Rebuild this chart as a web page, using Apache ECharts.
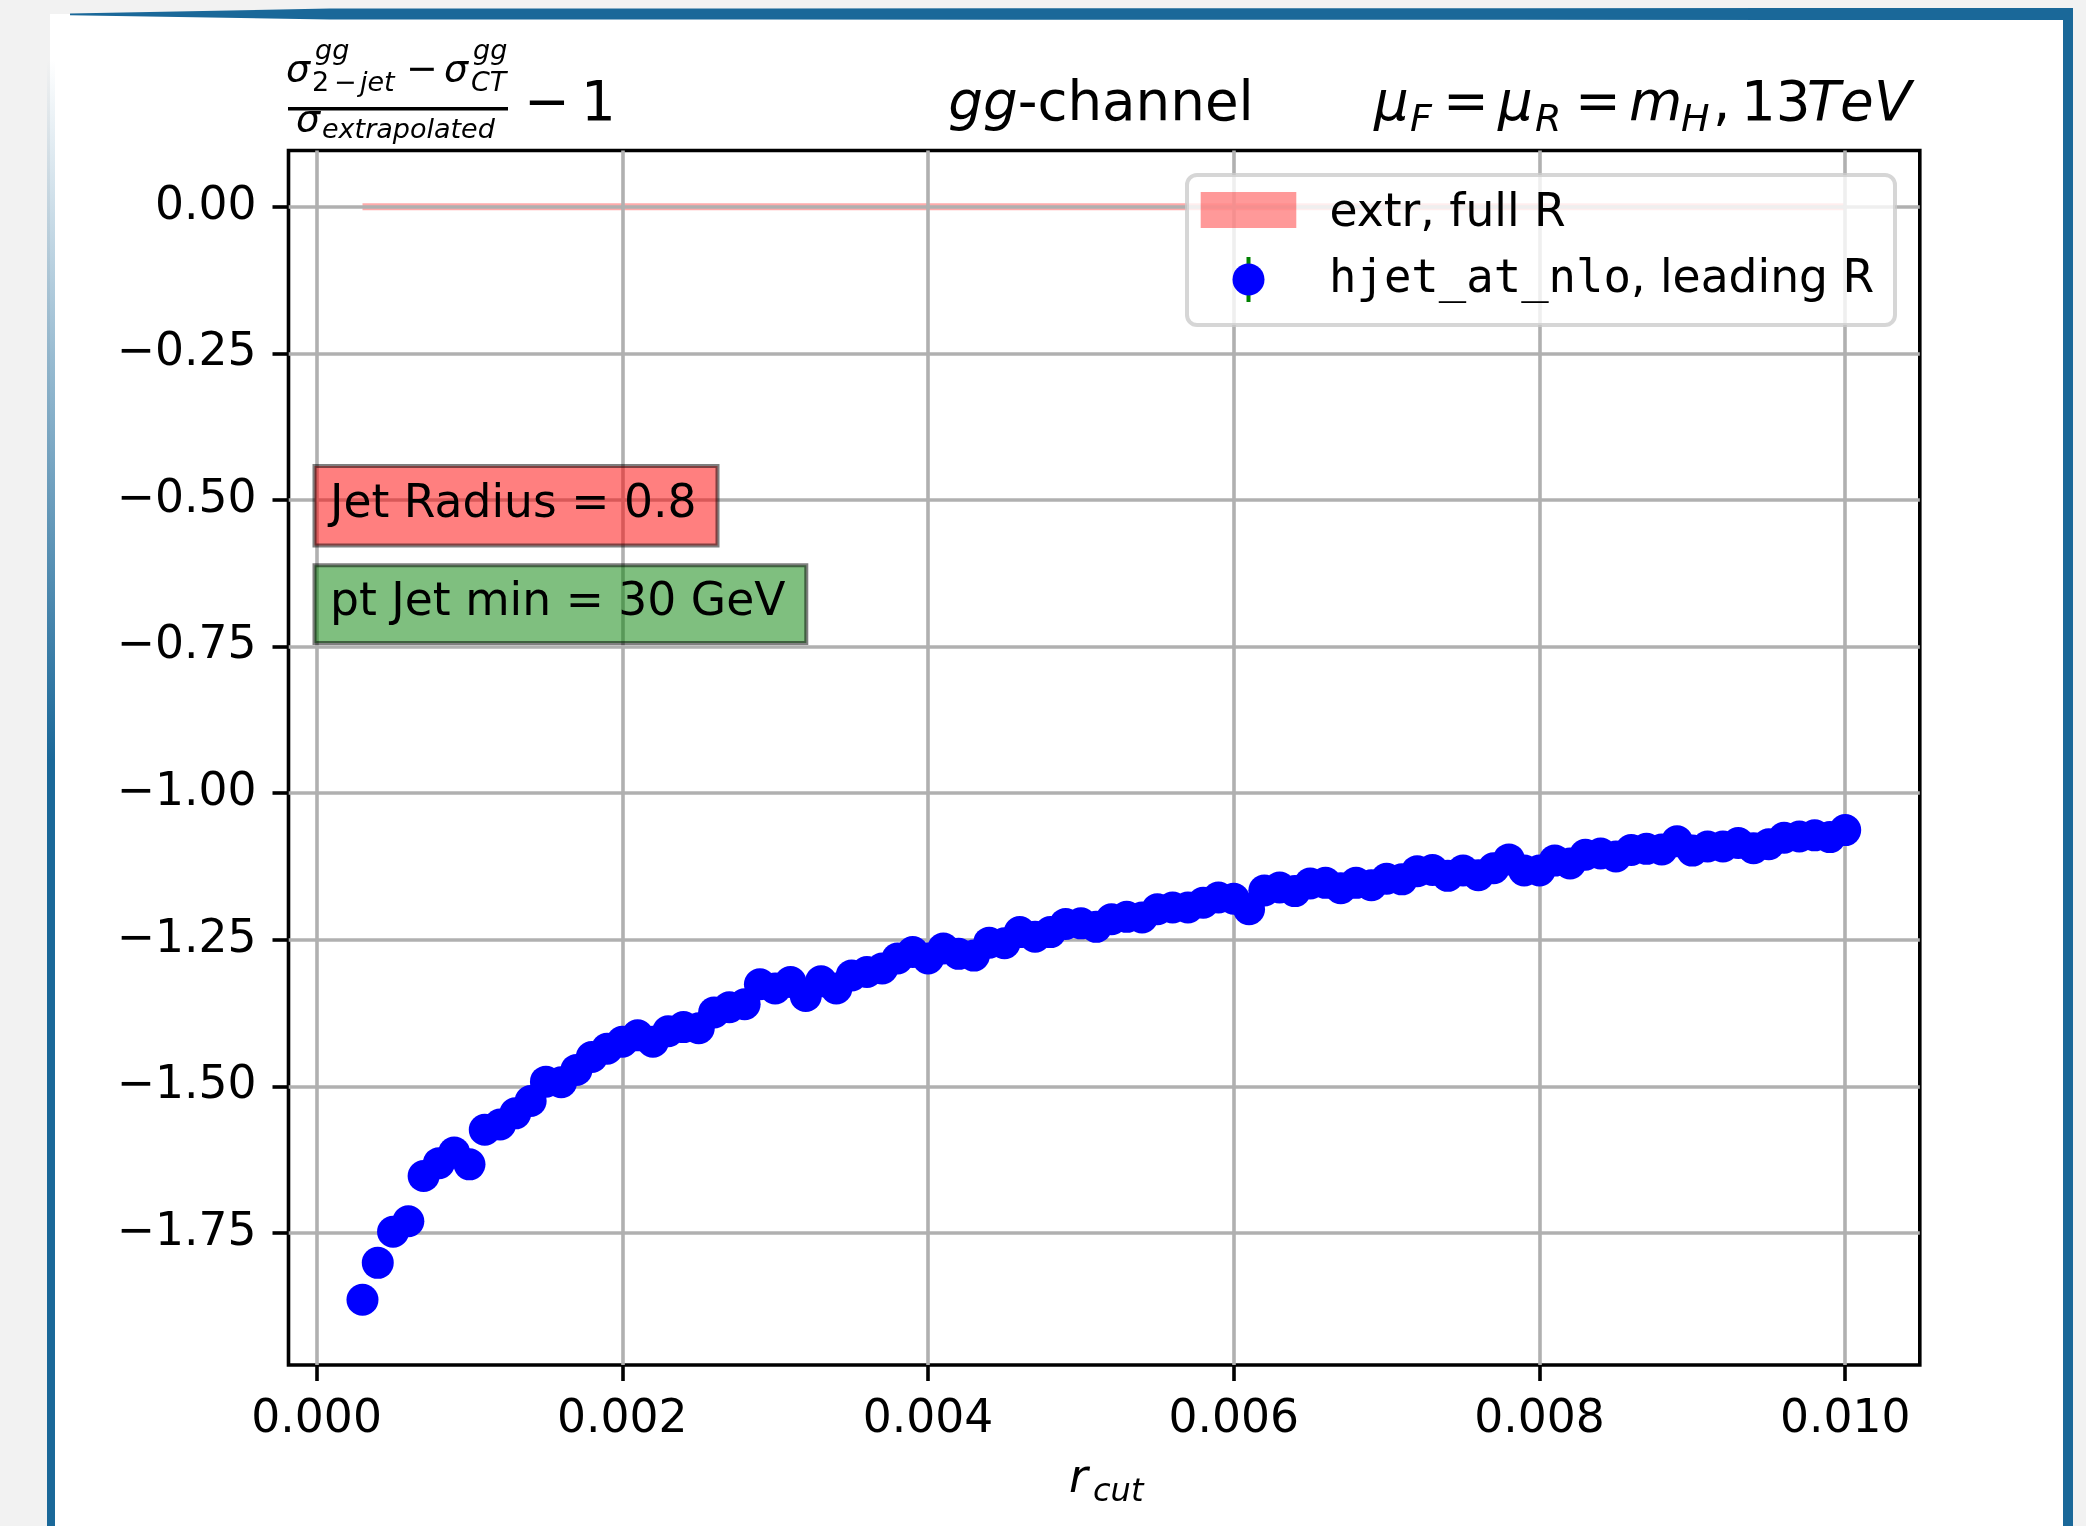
<!DOCTYPE html>
<html>
<head>
<meta charset="utf-8">
<title>gg-channel</title>
<script src="https://cdn.jsdelivr.net/npm/echarts@6.0.0/dist/echarts.min.js"></script>
<style>
  html, body { margin: 0; padding: 0; overflow: hidden; }
  body { width: 2086px; height: 1526px; background: #f2f2f2; position: relative; }
  .card { position: absolute; left: 50px; top: 14px; width: 2013px; bottom: 0; background: #fff; }
  .bd-top { position: absolute; left: 70px; top: 8px; width: 2003px; height: 12px; background: #1a6899;
            clip-path: polygon(0 45%, 260px 5%, 100% 0, 100% 100%, 260px 95%, 0 60%); }
  .bd-right { position: absolute; left: 2063px; top: 8px; width: 10px; bottom: 0; background: #1a6899; }
  .bd-left { position: absolute; left: 47px; top: 60px; width: 8px; bottom: 0;
             background: linear-gradient(to bottom, rgba(26,104,153,0) 0, rgba(26,104,153,0.45) 300px, #1a6899 700px); }
  #main { position: absolute; left: 0; top: 0; width: 2086px; height: 1526px; }
</style>
</head>
<body>
<div class="card"></div>
<div class="bd-top"></div>
<div class="bd-right"></div>
<div class="bd-left"></div>
<div id="main"></div>
<script>
// r_cut values and ratio
const rcut = [
  0.0003, 0.0004, 0.0005, 0.0006, 0.0007, 0.0008, 0.0009, 0.0010,
  0.0011, 0.0012, 0.0013, 0.0014, 0.0015, 0.0016, 0.0017, 0.0018, 0.0019, 0.0020,
  0.0021, 0.0022, 0.0023, 0.0024, 0.0025, 0.0026, 0.0027, 0.0028, 0.0029, 0.0030,
  0.0031, 0.0032, 0.0033, 0.0034, 0.0035, 0.0036, 0.0037, 0.0038, 0.0039, 0.0040,
  0.0041, 0.0042, 0.0043, 0.0044, 0.0045, 0.0046, 0.0047, 0.0048, 0.0049, 0.0050,
  0.0051, 0.0052, 0.0053, 0.0054, 0.0055, 0.0056, 0.0057, 0.0058, 0.0059, 0.0060,
  0.0061, 0.0062, 0.0063, 0.0064, 0.0065, 0.0066, 0.0067, 0.0068, 0.0069, 0.0070,
  0.0071, 0.0072, 0.0073, 0.0074, 0.0075, 0.0076, 0.0077, 0.0078, 0.0079, 0.0080,
  0.0081, 0.0082, 0.0083, 0.0084, 0.0085, 0.0086, 0.0087, 0.0088, 0.0089, 0.0090,
  0.0091, 0.0092, 0.0093, 0.0094, 0.0095, 0.0096, 0.0097, 0.0098, 0.0099, 0.0100
]
const ratio = [
  -1.864, -1.801, -1.748, -1.730, -1.653, -1.631, -1.613, -1.633,
  -1.574, -1.565, -1.546, -1.525, -1.492, -1.493, -1.472, -1.450, -1.436, -1.424,
  -1.413, -1.424, -1.406, -1.399, -1.401, -1.374, -1.365, -1.360, -1.326, -1.333,
  -1.322, -1.346, -1.321, -1.333, -1.311, -1.305, -1.299, -1.282, -1.271, -1.282,
  -1.265, -1.274, -1.277, -1.255, -1.256, -1.237, -1.245, -1.237, -1.223, -1.222,
  -1.228, -1.215, -1.211, -1.212, -1.198, -1.195, -1.195, -1.187, -1.178, -1.180,
  -1.198, -1.166, -1.161, -1.167, -1.154, -1.153, -1.162, -1.153, -1.157, -1.146,
  -1.147, -1.133, -1.131, -1.141, -1.132, -1.140, -1.128, -1.113, -1.132, -1.132,
  -1.115, -1.120, -1.105, -1.103, -1.108, -1.097, -1.095, -1.096, -1.082, -1.098,
  -1.091, -1.091, -1.085, -1.094, -1.087, -1.076, -1.074, -1.072, -1.075, -1.063
]
// extrapolated full-R band (sits on zero)
const bandX = [0.0003, 0.0100]
const bandY = [0, 0]

const xTickValues = [0, 0.002, 0.004, 0.006, 0.008, 0.010]
const yTickValues = [0, -0.25, -0.5, -0.75, -1.0, -1.25, -1.5, -1.75]

const FONT = 'DejaVu Sans'
const BLACK = '#000'

// y is the baseline, converted to the em middle used by zrender
function txt(x, base, text, size, italic, extra) {
  return Object.assign({
    type: 'text',
    x: x,
    y: base - 0.29 * size,
    z: 100,
    silent: true,
    style: {
      text: text,
      fontSize: size,
      fontFamily: FONT,
      fontStyle: italic ? 'italic' : 'normal',
      fill: BLACK,
      align: 'left',
      verticalAlign: 'middle'
    }
  }, extra || {})
}

const option = {
  animation: false,
  grid: {
    left: 288.5,
    top: 150.5,
    width: 1631.3,
    height: 1214.5,
    show: true,
    borderColor: '#000',
    borderWidth: 3.6,
    backgroundColor: 'transparent',
    outerBoundsMode: 'none'
  },
  xAxis: {
    type: 'value',
    min: -0.000184,
    max: 0.010488,
    axisLine: { show: false, onZero: false },
    axisTick: {
      show: true,
      inside: false,
      length: 16,
      customValues: xTickValues,
      lineStyle: { color: BLACK, width: 3.6 }
    },
    axisLabel: {
      customValues: xTickValues,
      margin: 32,
      fontSize: 45.6,
      fontFamily: FONT,
      color: BLACK,
      formatter: (v) => v.toFixed(3)
    },
    splitLine: {
      show: true,
      lineStyle: { color: '#b0b0b0', width: 3.6 }
    }
  },
  yAxis: {
    type: 'value',
    min: -1.9752,
    max: 0.0959,
    axisLine: { show: false, onZero: false },
    axisTick: {
      show: true,
      inside: false,
      length: 16,
      customValues: yTickValues,
      lineStyle: { color: BLACK, width: 3.6 }
    },
    axisLabel: {
      customValues: yTickValues,
      margin: 32,
      padding: [5.4, 0, 0, 0],
      fontSize: 45.6,
      fontFamily: FONT,
      color: BLACK,
      formatter: (v) => (v < 0 ? '\u2212' : '') + Math.abs(v).toFixed(2)
    },
    splitLine: {
      show: true,
      lineStyle: { color: '#b0b0b0', width: 3.6 }
    }
  },
  series: [
    {
      name: 'extr, full R',
      type: 'line',
      z: -1,
      silent: true,
      symbol: 'none',
      lineStyle: { color: 'rgba(255,0,0,0.33)', width: 7 },
      data: bandX.map((x, i) => [x, bandY[i]])
    },
    {
      name: 'hjet_at_nlo, leading R',
      type: 'scatter',
      silent: true,
      symbol: 'circle',
      symbolSize: 32,
      itemStyle: { color: '#0000ff', opacity: 1 },
      data: rcut.map((x, i) => [x, ratio[i]])
    }
  ],
  graphic: [
    // y label formula (top left)
    txt(286, 82, '\u03c3', 38, true),
    txt(315, 60, 'gg', 27, true),
    txt(312, 92, '2', 27, false),
    txt(334, 92, '\u2212', 27, false),
    txt(360, 92, 'jet', 27, true),
    txt(406, 82, '\u2212', 38, false),
    txt(444, 82, '\u03c3', 38, true),
    txt(473, 60, 'gg', 27, true),
    txt(471, 92, 'CT', 27, true),
    {
      type: 'rect', z: 100, silent: true,
      shape: { x: 288, y: 107, width: 220, height: 3.4 },
      style: { fill: BLACK }
    },
    txt(296, 132, '\u03c3', 38, true),
    txt(322, 139, 'extrapolated', 27, true),
    txt(524, 122, '\u2212', 54.7, false),
    txt(581, 122, '1', 54.7, false),

    // centre title
    {
      type: 'text', x: 1101, y: 122 - 0.29 * 54.7, z: 100, silent: true,
      style: {
        text: '{i|gg}{n|-channel}', align: 'center', verticalAlign: 'middle',
        fontSize: 54.7, fontFamily: FONT, fill: BLACK,
        rich: {
          i: { fontSize: 54.7, fontFamily: FONT, fontStyle: 'italic', fill: BLACK },
          n: { fontSize: 54.7, fontFamily: FONT, fill: BLACK }
        }
      }
    },

    // right title: mu_F = mu_R = m_H, 13TeV
    txt(1374, 122, '\u03bc', 54.7, true),
    txt(1410, 132, 'F', 38, true),
    txt(1443, 122, '=', 54.7, false),
    txt(1498, 122, '\u03bc', 54.7, true),
    txt(1535, 132, 'R', 38, true),
    txt(1575, 122, '=', 54.7, false),
    txt(1629, 122, 'm', 54.7, true),
    txt(1681, 132, 'H', 38, true),
    txt(1713, 122, ',', 54.7, false),
    txt(1741, 122, '13', 54.7, false),
    txt(1807, 122, 'T', 54.7, true),
    txt(1840, 122, 'e', 54.7, true),
    txt(1874, 122, 'V', 54.7, true),

    // x axis name r_cut
    txt(1069, 1493, 'r', 45.6, true),
    txt(1093, 1502, 'cut', 32, true),

    // annotation boxes
    {
      type: 'rect', z: 100, silent: true,
      shape: { x: 314.5, y: 466, width: 403, height: 79.5 },
      style: { fill: 'rgba(255,0,0,0.5)', stroke: 'rgba(0,0,0,0.5)', lineWidth: 4 }
    },
    txt(330, 518, 'Jet Radius = 0.8', 45.6, false),
    {
      type: 'rect', z: 100, silent: true,
      shape: { x: 314.5, y: 565.3, width: 491.8, height: 77.7 },
      style: { fill: 'rgba(0,128,0,0.5)', stroke: 'rgba(0,0,0,0.5)', lineWidth: 4 }
    },
    txt(330, 616.7, 'pt Jet min = 30 GeV', 45.6, false),

    // legend
    {
      type: 'rect', z: 100, silent: true,
      shape: { x: 1187, y: 175, width: 708, height: 150, r: 10 },
      style: { fill: 'rgba(255,255,255,0.8)', stroke: 'rgba(204,204,204,0.8)', lineWidth: 4 }
    },
    {
      type: 'rect', z: 101, silent: true,
      shape: { x: 1200.7, y: 192, width: 95.6, height: 36 },
      style: { fill: 'rgba(255,0,0,0.4)' }
    },
    txt(1329.5, 227, 'extr, full R', 45.6, false, { z: 101 }),
    {
      type: 'line', z: 101, silent: true,
      shape: { x1: 1248.5, y1: 257, x2: 1248.5, y2: 302 },
      style: { stroke: '#008000', lineWidth: 4 }
    },
    {
      type: 'circle', z: 102, silent: true,
      shape: { cx: 1248.5, cy: 279.5, r: 16 },
      style: { fill: '#0000ff' }
    },
    {
      type: 'text', x: 1329, y: 293 - 0.29 * 45.6, z: 101, silent: true,
      style: {
        text: '{m|hjet_at_nlo}{n|, leading R}', align: 'left', verticalAlign: 'middle',
        fontSize: 45.6, fontFamily: FONT, fill: BLACK,
        rich: {
          m: { fontSize: 45.6, fontFamily: 'DejaVu Sans Mono', fill: BLACK },
          n: { fontSize: 45.6, fontFamily: FONT, fill: BLACK }
        }
      }
    }
  ]
}

let myChart = echarts.init(document.getElementById('main'), null, { renderer: 'canvas' })
myChart.setOption(option, true)
</script>
</body>
</html>
